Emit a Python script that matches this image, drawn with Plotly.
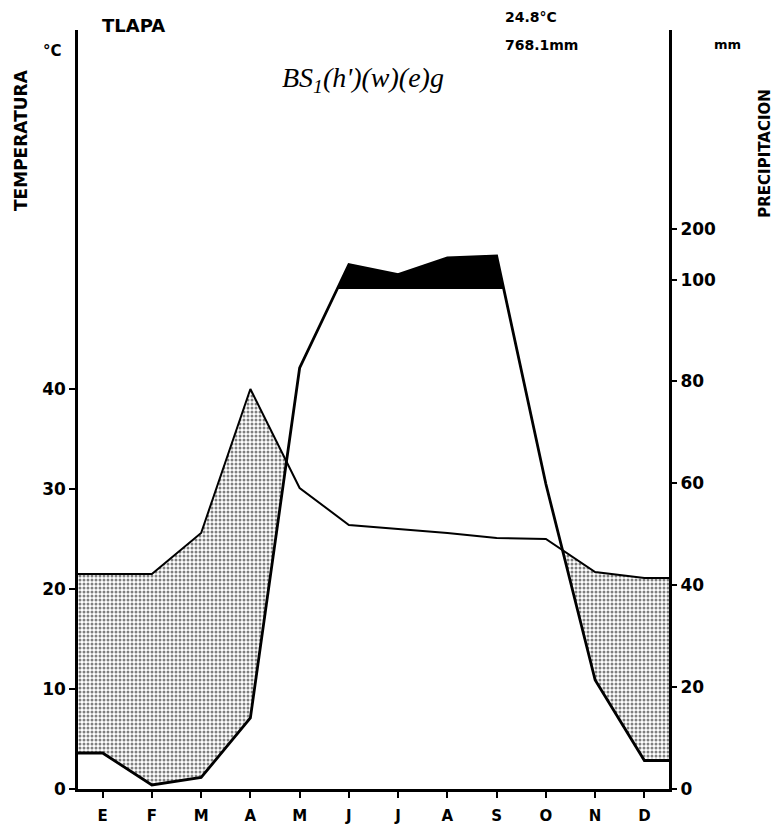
import numpy as np
import plotly.graph_objects as go

# ---------------- data ----------------
months = ["E", "F", "M", "A", "M", "J", "J", "A", "S", "O", "N", "D"]
temp_c = [21.5, 21.5, 25.6, 40.0, 30.1, 26.4, 26.0, 25.6, 25.1, 25.0, 21.7, 21.1]
precip_mm = [7.2, 0.8, 2.3, 14.2, 84.2, 149, 129, 162, 166, 61, 21.8, 5.7]
temp_ticks = [0, 10, 20, 30, 40]
precip_ticks = [0, 20, 40, 60, 80, 100, 200]
station = "TLAPA"
mean_temp = "24.8°C"
total_precip = "768.1mm"
climate_formula = "BS<sub>1</sub>(h')(w)(e)g"

# ---------------- helpers ----------------
def mm_to_units(p):
    """Walter-Lieth scale: 20 mm = 10 °C up to 100 mm, then 200 mm = 10 °C."""
    p = np.asarray(p, dtype=float)
    return np.where(p <= 100, p / 2.0, 50 + (p - 100) / 20.0)


def with_crossings(x, a, b):
    xs = [x[0]]
    for i in range(len(x) - 1):
        d0 = a[i] - b[i]
        d1 = a[i + 1] - b[i + 1]
        if d0 * d1 < 0:
            t = d0 / (d0 - d1)
            xs.append(x[i] + t * (x[i + 1] - x[i]))
        xs.append(x[i + 1])
    xs = np.array(xs)
    return xs, np.interp(xs, x, a), np.interp(xs, x, b)


mx = np.arange(1, 13, dtype=float)
x_ext = np.concatenate([[0.5], mx, [12.5]])
T_ext = np.concatenate([[temp_c[0]], temp_c, [temp_c[-1]]])
P_units = mm_to_units(precip_mm)
P_ext = np.concatenate([[P_units[0]], P_units, [P_units[-1]]])
limit100 = float(mm_to_units(100))

# dry season area (temperature above precipitation)
xd, Td, Pd = with_crossings(x_ext, T_ext, P_ext)
dry_lower = Pd
dry_upper = np.maximum(Td, Pd)

# very humid area (precipitation above 100 mm)
xw, Pw, Lw = with_crossings(x_ext, P_ext, np.full_like(P_ext, limit100))
wet_lower = np.minimum(Pw, limit100)
wet_upper = Pw

# ---------------- layout geometry ----------------
W, H = 776, 837
L, R, T, B = 78, 107, 30, 34
pw, ph = W - L - R, H - T - B


def px(xp, yp):
    return (xp - L) / pw, (H - B - yp) / ph


fig = go.Figure()

fig.add_trace(go.Scatter(x=xd, y=dry_lower, mode="lines", line=dict(width=0),
                         hoverinfo="skip", showlegend=False))
fig.add_trace(go.Scatter(x=xd, y=dry_upper, mode="lines", line=dict(width=0),
                         fill="tonexty",
                         fillpattern=dict(shape=".", fgcolor="black", bgcolor="white",
                                          size=4, solidity=0.45),
                         hoverinfo="skip", showlegend=False))
fig.add_trace(go.Scatter(x=xw, y=wet_lower, mode="lines", line=dict(width=0),
                         hoverinfo="skip", showlegend=False))
fig.add_trace(go.Scatter(x=xw, y=wet_upper, mode="lines", line=dict(width=0),
                         fill="tonexty", fillcolor="black",
                         hoverinfo="skip", showlegend=False))
fig.add_trace(go.Scatter(x=x_ext, y=T_ext, mode="lines",
                         line=dict(color="black", width=2),
                         name="Temperatura", showlegend=False))
fig.add_trace(go.Scatter(x=x_ext, y=P_ext, mode="lines",
                         line=dict(color="black", width=2.8),
                         name="Precipitación", showlegend=False))
# anchor trace for the right-hand axis
fig.add_trace(go.Scatter(x=[1], y=[0], yaxis="y2", mode="markers",
                         marker=dict(opacity=0), hoverinfo="skip", showlegend=False))

tick_font = dict(family="DejaVu Sans", size=17, color="black", weight="bold")

fig.update_layout(
    width=W, height=H,
    margin=dict(l=L, r=R, t=T, b=B),
    paper_bgcolor="white", plot_bgcolor="white",
    showlegend=False,
    xaxis=dict(range=[0.5, 12.5], tickvals=list(mx), ticktext=months,
               ticks="outside", ticklen=6, tickwidth=2, tickcolor="black",
               showline=True, linewidth=2.5, linecolor="black",
               showgrid=False, zeroline=False, ticklabelstandoff=5,
               tickfont=dict(family="DejaVu Sans", size=15, color="black", weight="bold")),
    yaxis=dict(range=[0, 75.9], tickvals=temp_ticks,
               ticks="outside", ticklen=6, tickwidth=2, tickcolor="black",
               showline=True, linewidth=2.5, linecolor="black",
               showgrid=False, zeroline=False, tickfont=tick_font),
    yaxis2=dict(range=[0, 74.5], overlaying="y", side="right",
                tickvals=list(mm_to_units(precip_ticks)),
                ticktext=[str(v) for v in precip_ticks],
                ticks="outside", ticklen=5, tickwidth=2, tickcolor="black",
                showline=True, linewidth=3, linecolor="black",
                showgrid=False, zeroline=False, tickfont=tick_font),
)

bold = dict(family="DejaVu Sans", color="black", weight="bold")
annots = [
    dict(text=station, pos=(133, 25), size=18, angle=0),
    dict(text="°C", pos=(52, 51), size=15, angle=0),
    dict(text="TEMPERATURA", pos=(21, 142), size=17, angle=-90),
    dict(text="PRECIPITACION", pos=(765, 156), size=15, angle=-90),
    dict(text="mm", pos=(727, 45), size=13, angle=0),
]
for a in annots:
    xp, yp = px(*a["pos"])
    fig.add_annotation(text=a["text"], x=xp, y=yp, xref="paper", yref="paper",
                       showarrow=False, xanchor="center", yanchor="middle",
                       textangle=a["angle"], font=dict(size=a["size"], **bold))

for txt, pos in [(mean_temp, (503, 17)), (total_precip, (503, 45))]:
    xp, yp = px(*pos)
    fig.add_annotation(text=txt, x=xp, y=yp, xref="paper", yref="paper",
                       showarrow=False, xanchor="left", yanchor="middle",
                       font=dict(size=14, **bold))

xp, yp = px(363, 80)
fig.add_annotation(text=climate_formula, x=xp, y=yp, xref="paper", yref="paper",
                   showarrow=False, xanchor="center", yanchor="middle",
                   font=dict(family="Liberation Serif", size=28, color="black",
                             style="italic"))

fig.write_html("out.html")
